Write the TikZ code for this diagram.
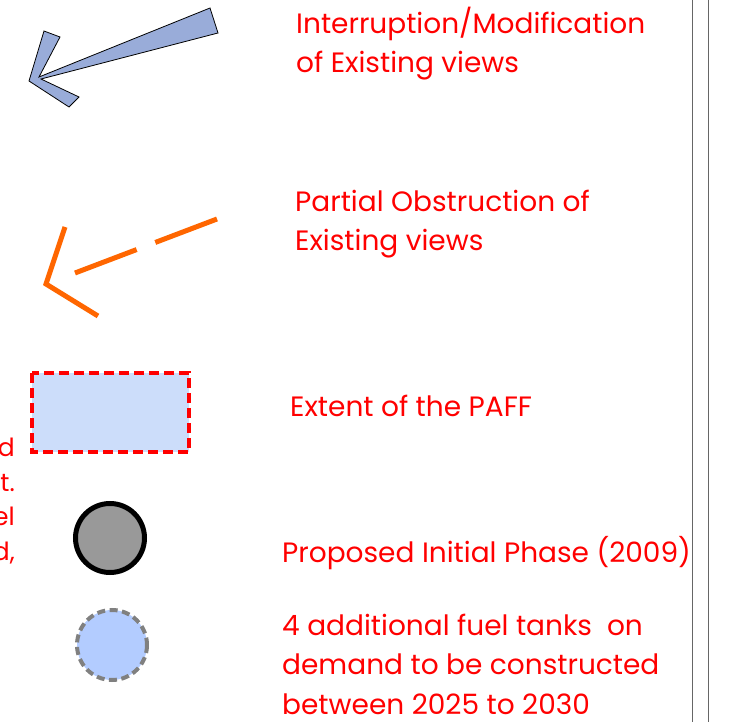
\documentclass[tikz,border=0pt]{standalone}
\usepackage{fontspec}
\setmainfont{Poppins}
\definecolor{legred}{RGB}{255,0,0}
\definecolor{arrowblue}{RGB}{153,172,217}
\definecolor{paffblue}{RGB}{204,221,250}
\definecolor{tankblue}{RGB}{179,204,255}
\definecolor{dashorange}{RGB}{255,102,0}

\begin{document}
\begin{tikzpicture}[x=1pt,y=-1pt,
  legtext/.style = {text=legred,inner sep=0pt,align=left,font=\fontsize{28}{39.5}\selectfont},
  sidetext/.style = {text=legred,inner sep=0pt,align=right,font=\fontsize{25}{34.5}\selectfont}]
\useasboundingbox (0,0) rectangle (729,722);

% legend texts (base = last line)
\node[legtext] (interrupt) [anchor=base west] at (296,73) {Interruption/Modification\\of Existing views};
\node[legtext] (partial)   [anchor=base west] at (295,251) {Partial Obstruction of\\Existing views};
\node[legtext] (paff)      [anchor=base west] at (290,416) {Extent of the PAFF};
\node[legtext] (initial)   [anchor=base west] at (282,562) {Proposed Initial Phase (2009)};
\node[legtext] (future)    [anchor=base west] at (282,714) {4 additional fuel tanks\ \ on\\demand to be constructed\\between 2025 to 2030};
\node[sidetext] (cut)      [anchor=base east] at (15,560) {d\\t.\\el\\d,};

% interruption arrow
\filldraw[fill=arrowblue,draw=black,line width=0.8pt]
  (29,81) -- (44,31) -- (60,37) -- (39,77) -- (210,8) -- (218,33)
  -- (41,79) -- (79,97) -- (69,107) -- cycle;

% obstruction arrow
\coordinate (obsA) at (217,219);
\coordinate (obsB) at (75,273);
\draw[dashorange,line width=5pt,dash pattern=on 66pt off 20pt] (obsA) -- (obsB);
\draw[dashorange,line width=5pt] (65,227) -- (46,284) -- (98,316);

% extent of the PAFF
\filldraw[fill=paffblue,draw=legred,line width=4pt,dash pattern=on 10pt off 5pt]
  (32,373) rectangle (189,452);

% tanks
\filldraw[fill=black!40,draw=black,line width=5pt] (110,538) circle (34.5);
\filldraw[fill=tankblue,draw=black!50,line width=4pt,dash pattern=on 8pt off 4.5pt] (112,645) circle (35);

% frame lines
\draw[black!60,line width=1.3pt] (692.5,0) -- (692.5,722);
\draw[black!60,line width=1.3pt] (708.5,0) -- (708.5,722);
\end{tikzpicture}
\end{document}
